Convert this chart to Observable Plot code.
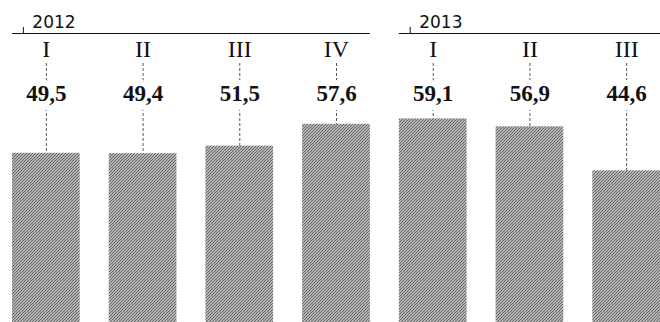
<!DOCTYPE html>
<html>
<head>
<meta charset="utf-8">
<script src="https://cdn.jsdelivr.net/npm/d3@7"></script>
<script src="https://cdn.jsdelivr.net/npm/@observablehq/plot@0.6"></script>
<style>
  html, body { margin: 0; padding: 0; background: #fff; }
  #chart svg { display: block; }
</style>
</head>
<body>
<div id="chart"></div>
<script>
// Quarterly values, 2012 Q1 – 2013 Q3
const years = ["2012", "2012", "2012", "2012", "2013", "2013", "2013"];
const quarters = ["I", "II", "III", "IV", "I", "II", "III"];
const values = [49.5, 49.4, 51.5, 57.6, 59.1, 56.9, 44.6];
const yearLabels = ["2012", "2013"];

const fmt = d3.formatLocale({decimal: ",", thousands: " ", grouping: [3], currency: ["", ""]}).format(".1f");

const data = values.map((v, i) => ({
  key: `${years[i]} ${quarters[i]}`,
  year: years[i],
  quarter: quarters[i],
  value: v
}));

// First and last bar of each year, for the year brackets
const groups = yearLabels.map(y => {
  const rows = data.filter(d => d.year === y);
  return {year: y, first: rows[0].key, last: rows[rows.length - 1].key};
});

// Fine diagonal hatch used to fill the bars
const hatch = () => {
  const defs = d3.create("svg:defs");
  const p = defs.append("pattern")
    .attr("id", "hatch")
    .attr("patternUnits", "userSpaceOnUse")
    .attr("width", 3).attr("height", 3);
  p.append("rect").attr("width", 3).attr("height", 3).attr("fill", "#b4b4b4");
  p.append("rect").attr("x", 2).attr("y", 0).attr("width", 1).attr("height", 1).attr("fill", "#666");
  p.append("rect").attr("x", 1).attr("y", 1).attr("width", 1).attr("height", 1).attr("fill", "#666");
  p.append("rect").attr("x", 0).attr("y", 2).attr("width", 1).attr("height", 1).attr("fill", "#666");
  return defs.node();
};

const H = 322;
const serif = "'Liberation Serif', 'DejaVu Serif', serif";

const chart = Plot.plot({
  width: 660,
  height: H,
  marginTop: 0,
  marginBottom: 0,
  marginLeft: 0,
  marginRight: 0,
  x: {type: "band", domain: data.map(d => d.key), range: [12, 660], paddingInner: 0.3, paddingOuter: 0, round: false, axis: null},
  y: {domain: [0, 60], range: [330, 115.2], axis: null},
  marks: [
    hatch,
    // dashed leader from the labels down to each bar
    Plot.ruleX(data, {x: "key", stroke: "#555", strokeWidth: 1, strokeDasharray: "3,2", insetTop: 63}),
    Plot.barY(data, {x: "key", y: "value", fill: "url(#hatch)"}),
    // quarter numerals
    Plot.text(data, {
      x: "key", text: "quarter", frameAnchor: "top", lineAnchor: "top", dy: 39,
      fontFamily: serif, fontSize: 24, fill: "#111",
      stroke: "white", strokeWidth: 12, paintOrder: "stroke"
    }),
    // values
    Plot.text(data, {
      x: "key", text: d => fmt(d.value), frameAnchor: "top", lineAnchor: "top", dy: 84,
      fontFamily: serif, fontSize: 23, fontWeight: "bold", fill: "#111",
      stroke: "white", strokeWidth: 12, paintOrder: "stroke"
    }),
    // year brackets
    Plot.ruleY(groups, {x1: "first", x2: "last", y: null, stroke: "#111", strokeWidth: 1, dy: 33 - H / 2}),
    Plot.ruleX(groups, {x: "first", stroke: "#111", strokeWidth: 1, insetTop: 27, insetBottom: H - 33, dx: -23}),
    Plot.text(groups, {
      x: "first", text: "year", frameAnchor: "top", lineAnchor: "top", textAnchor: "start",
      dx: -14, dy: 15, fontFamily: "'DejaVu Sans', sans-serif", fontSize: 17, fill: "#111"
    })
  ]
});

document.getElementById("chart").appendChild(chart);
</script>
</body>
</html>
